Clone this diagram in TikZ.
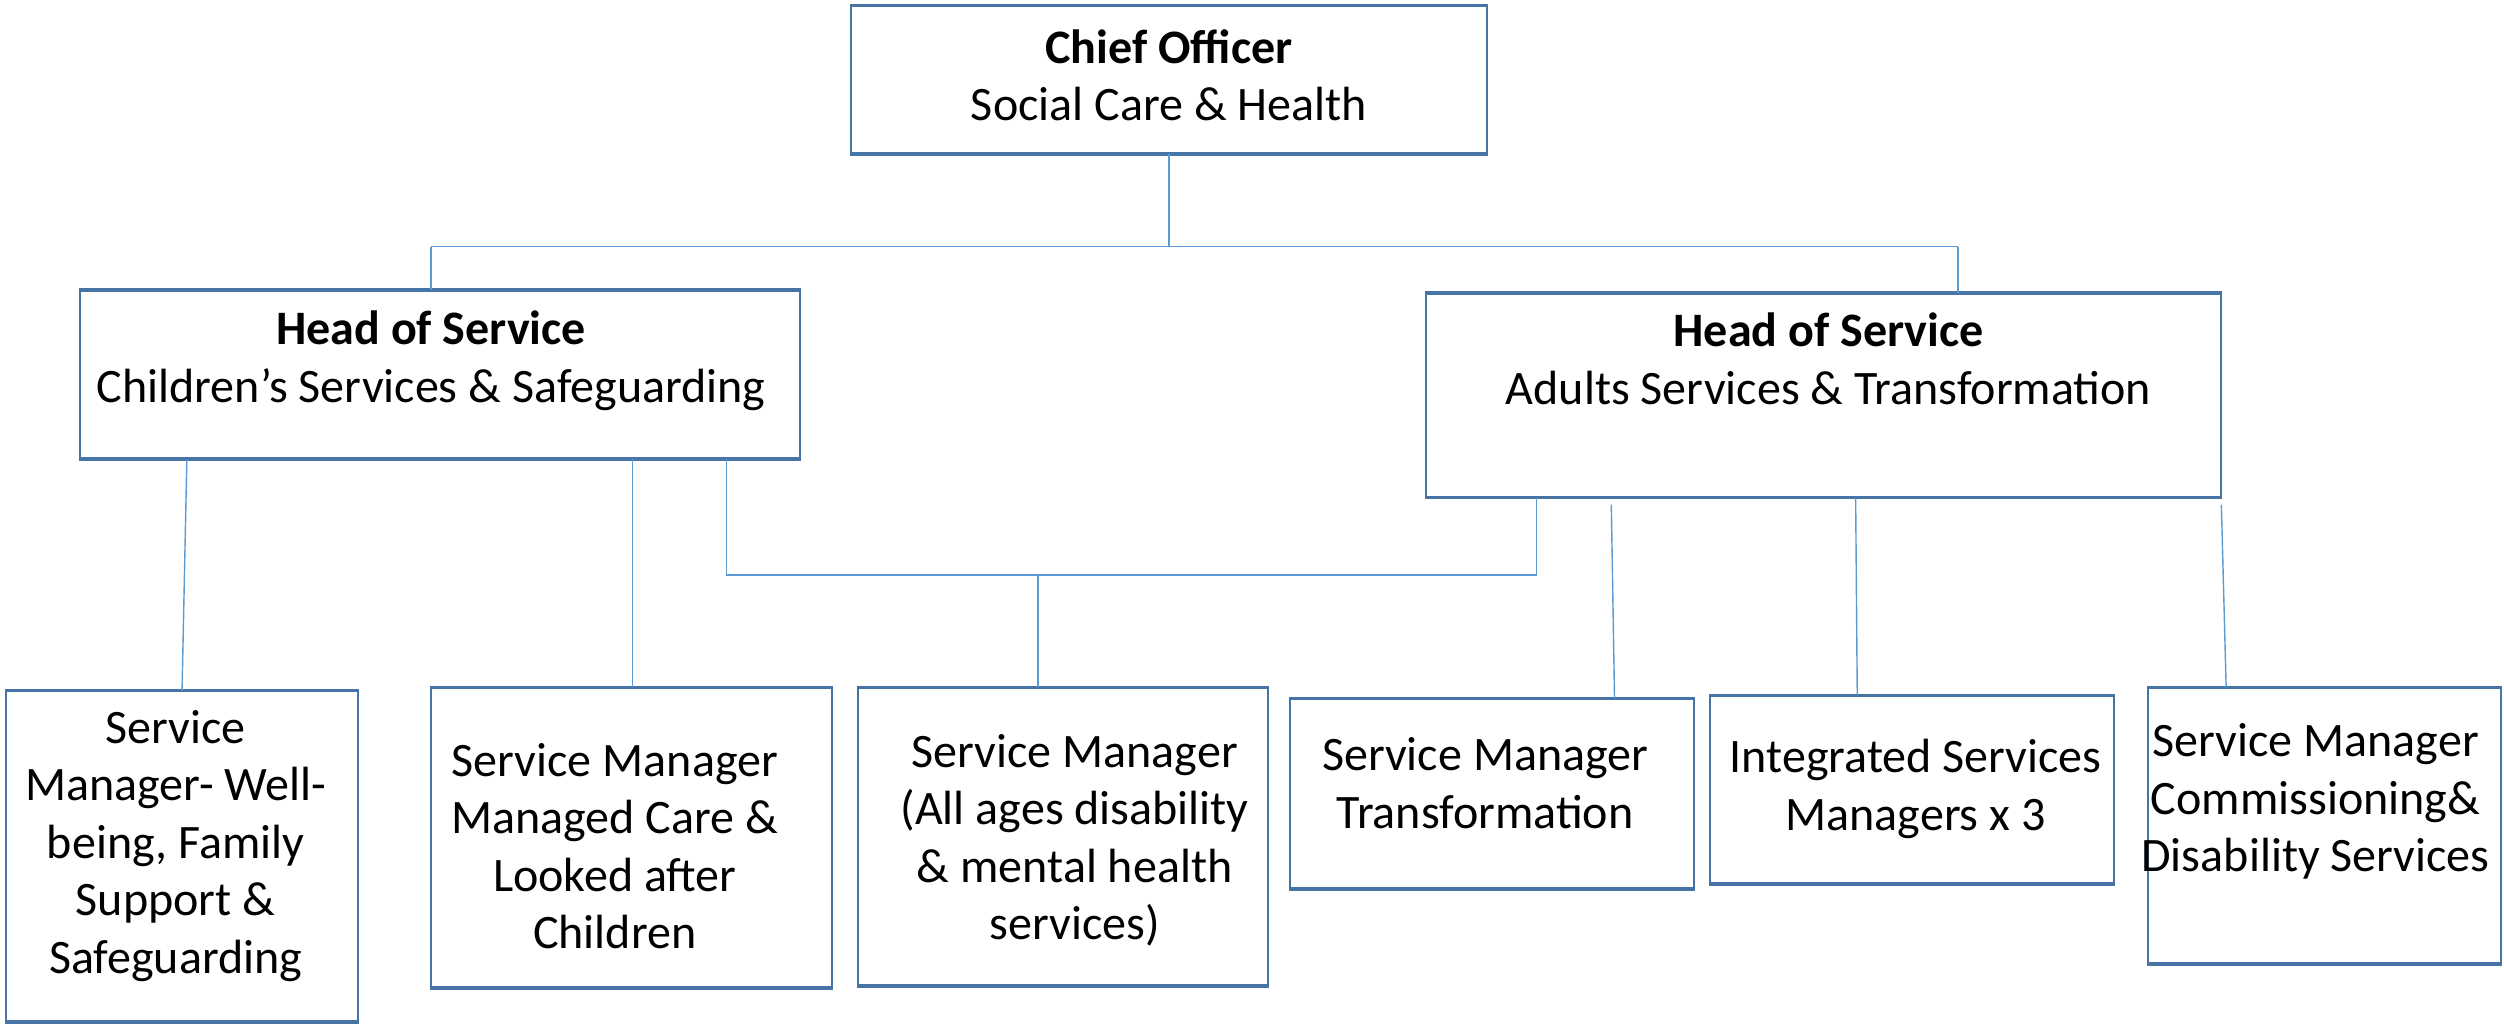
\documentclass[tikz,border=0pt]{standalone}
\usepackage{fontspec}
\setmainfont{Carlito}
\usetikzlibrary{fit}
\definecolor{boxblue}{RGB}{70,116,164}
\definecolor{connblue}{RGB}{91,155,213}
\tikzset{
  box/.style={draw=boxblue, line width=0.55pt, rectangle, inner sep=0pt, fill=white},
  edgeline/.style={draw=boxblue, line width=0.95pt},
  txt/.style={anchor=base, align=flush center, text width=9cm, inner sep=0pt,
    font=\fontsize{13.7pt}{16.4pt}\selectfont},
  conn/.style={draw=connblue, line width=0.4pt}
}
\begin{document}
\begin{tikzpicture}[x=0.016cm, y=-0.016cm]
\useasboundingbox (0,0) rectangle (1568,640.6);
% boxes
\node[box, fit={(533,4) (931,96)}] (chief) {};
\node[box, fit={(50,182) (501,287)}] (hosC) {};
\node[box, fit={(893,184) (1391,311)}] (hosA) {};
\node[box, fit={(4,433) (224,639.5)}] (b1) {};
\node[box, fit={(270,431) (521,618)}] (b2) {};
\node[box, fit={(537,431) (794,617)}] (b3) {};
\node[box, fit={(808,438) (1061,556)}] (b4) {};
\node[box, fit={(1071,436) (1324,553)}] (b5) {};
\node[box, fit={(1345,431) (1566,603)}] (b6) {};
\foreach \n in {chief,hosC,hosA,b1,b2,b3,b4,b5,b6}{
  \draw[edgeline] (\n.north west) -- (\n.north east);
  \draw[edgeline] (\n.south west) -- (\n.south east);
}
% texts
\node[txt] (tchief) at (732,39.7) {\textbf{Chief Officer}\\Social Care \& Health};
\node[txt] (thosC) at (270,216) {\textbf{Head of Service}\\Children’s Services \& Safeguarding};
\node[txt] (thosA) at (1145,217) {\textbf{Head of Service}\\Adults Services \& Transformation};
\node[txt] (tb1) at (110,465.3) {Service\\Manager- Well-\\being, Family\\Support \&\\Safeguarding};
\node[txt] (tb2) at (385,486) {Service Manager\\Managed Care \&\\Looked after\\Children};
\node[txt] (tb3) at (673,480.5) {Service Manager\\(All ages disability\\\& mental health\\services)};
\node[txt] (tb4) at (930,482.7) {Service Manager\\Transformation};
\node[txt] (tb5) at (1199.5,483.8) {Integrated Services\\Managers x 3};
\node[txt] (tb6) at (1450,474) {Service Manager\\Commissioning\&\\Disability Services};
% junction coordinates
\coordinate (j0) at (732,154.5);
\coordinate (jl) at (270,154.5);
\coordinate (jr) at (1226,154.5);
\coordinate (m1) at (455,360);
\coordinate (m2) at (962,360);
\coordinate (m3) at (650,360);
% connectors
\draw[conn] (chief.south -| j0) -- (j0);
\draw[conn] (jl) -- (jr);
\draw[conn] (jl) -- (jl |- hosC.north);
\draw[conn] (jr) -- (jr |- hosA.north);
\coordinate (c1a) at (117,287);
\coordinate (c1b) at (114,433);
\draw[conn] (hosC.south -| c1a) -- (b1.north -| c1b);
\coordinate (c2) at (396,360);
\draw[conn] (hosC.south -| c2) -- (b2.north -| c2);
\draw[conn] (hosC.south -| m1) -- (m1) -- (m2) -- (hosA.south -| m2);
\draw[conn] (m3) -- (b3.north -| m3);
\coordinate (c4a) at (1009,316);
\coordinate (c4b) at (1011,438);
\draw[conn] (c4a) -- (b4.north -| c4b);
\coordinate (c5a) at (1162,311);
\coordinate (c5b) at (1163,436);
\draw[conn] (hosA.south -| c5a) -- (b5.north -| c5b);
\coordinate (c6a) at (1391,316);
\coordinate (c6b) at (1394,431);
\draw[conn] (c6a) -- (b6.north -| c6b);
\end{tikzpicture}
\end{document}
